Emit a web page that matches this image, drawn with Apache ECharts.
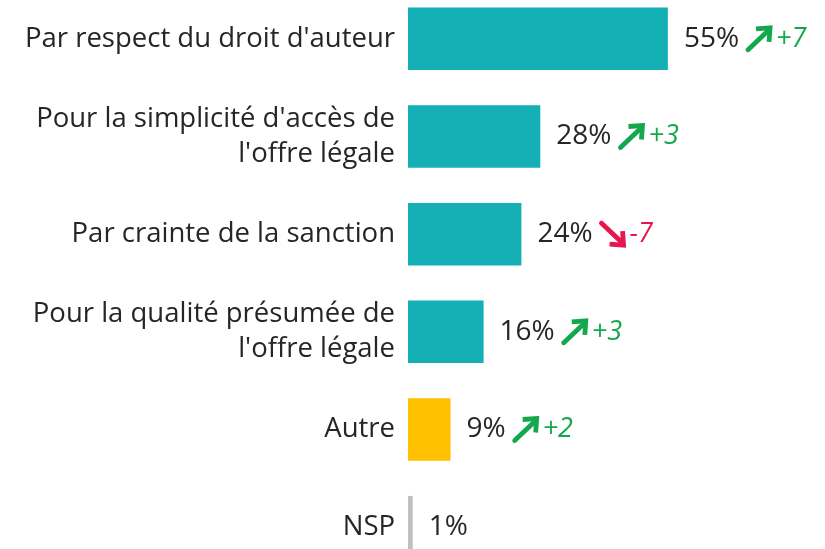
<!DOCTYPE html>
<html>
<head>
<meta charset="utf-8">
<script src="https://cdn.jsdelivr.net/npm/echarts@6/dist/echarts.min.js"></script>
<style>
  html, body { margin: 0; padding: 0; background: #fff; }
  #chart { width: 825px; height: 549px; }
</style>
</head>
<body>
<div id="chart"></div>
<script>
// Reasons given for using legal offers (%), with change in points
const categories = [
  "Par respect du droit d'auteur",
  "Pour la simplicité d'accès de\nl'offre légale",
  "Par crainte de la sanction",
  "Pour la qualité présumée de\nl'offre légale",
  "Autre",
  "NSP"
];
const values = [55, 28, 24, 16, 9, 1];
const changes = [7, 3, -7, 3, 2, null];
const barColors = ['#14b0b6', '#14b0b6', '#14b0b6', '#14b0b6', '#ffc000', '#c0c0c0'];

const FONT = 'Open Sans';
const GREEN = '#13a84c';
const RED = '#e5174e';

function svgUrl(svg) {
  return 'data:image/svg+xml;charset=utf-8,' + encodeURIComponent(svg);
}
const upArrow = svgUrl(
  "<svg xmlns='http://www.w3.org/2000/svg' width='30' height='28' viewBox='0 0 30 28'>" +
  "<path d='M4 25 L23 7' stroke='" + GREEN + "' stroke-width='4.8' stroke-linecap='round' fill='none'/>" +
  "<path d='M12 4 L26 3 L25 17' stroke='" + GREEN + "' stroke-width='4.8' fill='none' stroke-linejoin='miter'/>" +
  "</svg>");
const downArrow = svgUrl(
  "<svg xmlns='http://www.w3.org/2000/svg' width='30' height='28' viewBox='0 0 30 28'>" +
  "<path d='M4 3 L23 21' stroke='" + RED + "' stroke-width='4.8' stroke-linecap='round' fill='none'/>" +
  "<path d='M12 24 L26 25 L25 11' stroke='" + RED + "' stroke-width='4.8' fill='none' stroke-linejoin='miter'/>" +
  "</svg>");

const chart = echarts.init(document.getElementById('chart'), null, { renderer: 'canvas' });

chart.setOption({
  animation: false,
  backgroundColor: '#ffffff',
  grid: { left: 408, right: 39, top: -10, bottom: -27, outerBoundsMode: 'none', containLabel: false },
  xAxis: {
    type: 'value', min: 0, max: 80, show: false
  },
  yAxis: {
    type: 'category',
    data: categories,
    inverse: true,
    axisLine: { show: false },
    axisTick: { show: false },
    splitLine: { show: false },
    axisLabel: {
      fontFamily: FONT, fontSize: 27.5, color: '#262626',
      margin: 13, lineHeight: 35, align: 'right'
    }
  },
  series: [{
    type: 'bar',
    barCategoryGap: '36%',
    data: values.map((v, i) => ({ value: v, itemStyle: { color: barColors[i] } })),
    label: {
      show: true,
      position: 'right',
      distance: 16,
      formatter: p => {
        const c = changes[p.dataIndex];
        let s = '{v|' + p.value + '%}';
        if (c !== null) {
          s += '{g|}' + (c > 0 ? '{up|}{g2|}{pos|+' + c + '}' : '{down|}{g2|}{neg|' + c + '}');
        }
        return s;
      },
      rich: {
        v: { fontFamily: FONT, fontSize: 28, color: '#262626' },
        g: { width: 5 },
        g2: { width: 2 },
        up: { width: 30, height: 28, backgroundColor: { image: upArrow } },
        down: { width: 30, height: 28, backgroundColor: { image: downArrow } },
        pos: { fontFamily: FONT, fontSize: 27, fontStyle: 'italic', color: GREEN },
        neg: { fontFamily: FONT, fontSize: 27, fontStyle: 'italic', color: RED }
      }
    }
  }]
});
</script>
</body>
</html>
